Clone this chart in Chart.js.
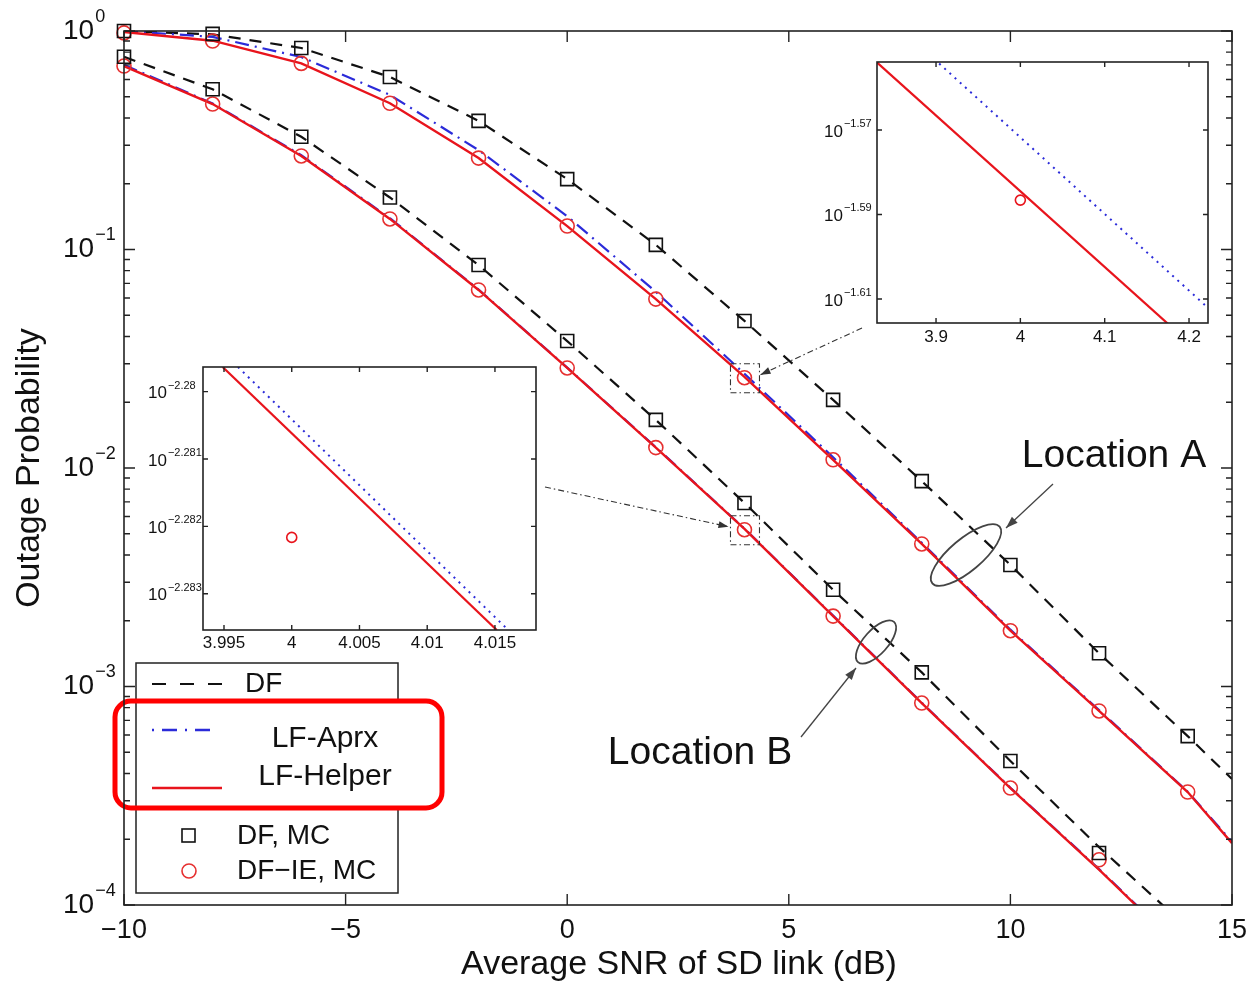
<!DOCTYPE html>
<html>
<head>
<meta charset="utf-8">
<script src="https://cdn.jsdelivr.net/npm/chart.js@4.4.0/dist/chart.umd.min.js"></script>
<style>
  body { margin: 0; background: #fff; }
  #wrap { position: relative; width: 1249px; height: 984px; }
  canvas { position: absolute; }
</style>
</head>
<body>
<div id="wrap">
  <canvas id="main" width="1249" height="984" style="left:0;top:0"></canvas>
  <canvas id="insetA" width="430" height="305" style="left:800px;top:50px"></canvas>
  <canvas id="insetB" width="420" height="300" style="left:130px;top:355px"></canvas>
</div>
<script>
const FONT = "'Liberation Sans', Arial, Helvetica, sans-serif";
const RED = '#e8141c';
const BLUE = '#2b2bd9';

// SNR of SD link (dB)
const snrTheory = [-10, -8, -6, -4, -2, 0, 2, 4, 6, 8, 10, 12, 14, 15];
const snrMcA = [-10, -8, -6, -4, -2, 0, 2, 4, 6, 8, 10, 12, 14];
const snrMcB = [-10, -8, -6, -4, -2, 0, 2, 4, 6, 8, 10, 12];

// Location A
const dfA       = [1.0, 0.965, 0.836, 0.616, 0.388, 0.210, 0.105, 0.0471, 0.0205, 0.00871, 0.00360, 0.00142, 0.000593, 0.000377];
const lfAprxA   = [1.0, 0.94, 0.76, 0.51, 0.285, 0.142, 0.064, 0.0270, 0.0112, 0.00455, 0.00182, 0.00078, 0.00033, 0.000195];
const lfHelperA = [0.99, 0.903, 0.711, 0.467, 0.262, 0.128, 0.0593, 0.0261, 0.0109, 0.00449, 0.00180, 0.000773, 0.000329, 0.000192];
const dfMcA     = [1.0, 0.97, 0.836, 0.616, 0.388, 0.210, 0.105, 0.0471, 0.0205, 0.00871, 0.00360, 0.00142, 0.000593];
const dfieMcA   = [0.98, 0.90, 0.711, 0.467, 0.262, 0.128, 0.0593, 0.0259, 0.0109, 0.00449, 0.00180, 0.000773, 0.000329];

// Location B
const dfB       = [0.762, 0.541, 0.328, 0.173, 0.0849, 0.0381, 0.0166, 0.00692, 0.00277, 0.00116, 0.000456, 0.000184, 0.0000785, 0.000052];
const lfAprxB   = [0.70, 0.466, 0.270, 0.139, 0.0656, 0.0288, 0.01245, 0.00528, 0.00211, 0.000843, 0.000344, 0.000146, 0.0000595, 0.0000385];
const lfHelperB = [0.691, 0.463, 0.268, 0.138, 0.0653, 0.0287, 0.0124, 0.00526, 0.00210, 0.00084, 0.000343, 0.000145, 0.000059, 0.000038];
const dfMcB     = [0.762, 0.541, 0.328, 0.173, 0.0849, 0.0381, 0.0166, 0.00692, 0.00277, 0.00116, 0.000456, 0.000173];
const dfieMcB   = [0.691, 0.463, 0.268, 0.138, 0.0653, 0.0287, 0.0124, 0.00522, 0.00210, 0.00084, 0.000343, 0.000161];

const xTicks = [-10, -5, 0, 5, 10, 15];
const yDecades = [0, -1, -2, -3, -4];

// zoom inset A (around SNR = 4 dB, location A)
const insetAXTicks = [3.9, 4, 4.1, 4.2];
const insetAYExp = [-1.57, -1.59, -1.61];
const insetASnr = [3.83, 4.2225];
const insetAHelper = [0.027925, 0.023746];
const insetAAprx = [0.028781, 0.024428];
const insetAMcSnr = [4];
const insetAMc = [0.025906];

// zoom inset B (around SNR = 4 dB, location B)
const insetBXTicks = [3.995, 4, 4.005, 4.01, 4.015];
const insetBYExp = [-2.28, -2.281, -2.282, -2.283];
const insetBHelperSnr = [3.9949, 4.01513];
const insetBAprxSnr = [3.99603, 4.01598];
const insetBLine = [0.0052525, 0.0052055];
const insetBMcSnr = [4];
const insetBMc = [0.005222];

function pts(xs, ys) {
  return ys.map((y, i) => ({ x: xs[i], y: y }));
}
function lineDs(xs, ys, color, width, dash, order) {
  return { data: pts(xs, ys), borderColor: color, borderWidth: width, borderDash: dash,
    pointRadius: 0, fill: false, tension: 0, order: order };
}
function markerDs(xs, ys, style, color, r) {
  return { data: pts(xs, ys), showLine: false, pointStyle: style, pointRadius: r,
    pointBorderColor: color, pointBackgroundColor: 'rgba(0,0,0,0)', pointBorderWidth: 1.6,
    clip: false, order: 0 };
}
function mathText(s) { return String(s).replace('-', '\u2212'); }

function text(ctx, str, x, y, size, align, base) {
  ctx.font = size + 'px ' + FONT;
  ctx.fillStyle = '#111';
  ctx.textAlign = align || 'center';
  ctx.textBaseline = base || 'middle';
  ctx.fillText(str, x, y);
}
function powLabel(ctx, x, y, exp, size, expSize, raise) {
  text(ctx, '10', x, y, size, 'left');
  ctx.font = size + 'px ' + FONT;
  const w = ctx.measureText('10').width;
  text(ctx, mathText(exp), x + w + 1, y - raise, expSize, 'left');
}
function arrow(ctx, x1, y1, x2, y2, head) {
  ctx.beginPath(); ctx.moveTo(x1, y1); ctx.lineTo(x2, y2); ctx.stroke();
  const a = Math.atan2(y2 - y1, x2 - x1);
  ctx.setLineDash([]);
  ctx.beginPath();
  ctx.moveTo(x2, y2);
  ctx.lineTo(x2 - head * Math.cos(a) + head * 0.35 * Math.sin(a), y2 - head * Math.sin(a) - head * 0.35 * Math.cos(a));
  ctx.lineTo(x2 - head * Math.cos(a) - head * 0.35 * Math.sin(a), y2 - head * Math.sin(a) + head * 0.35 * Math.cos(a));
  ctx.closePath(); ctx.fill();
}

// frame + inside ticks on all four sides
function drawFrame(ctx, area, xPx, yPx, yMinorPx, majorLen, minorLen) {
  const { left, right, top, bottom } = area;
  ctx.save();
  ctx.strokeStyle = '#222';
  ctx.lineWidth = 1.4;
  ctx.setLineDash([]);
  ctx.beginPath();
  xPx.forEach(x => {
    ctx.moveTo(x, bottom); ctx.lineTo(x, bottom - majorLen);
    ctx.moveTo(x, top); ctx.lineTo(x, top + majorLen);
  });
  yPx.forEach(y => {
    ctx.moveTo(left, y); ctx.lineTo(left + majorLen, y);
    ctx.moveTo(right, y); ctx.lineTo(right - majorLen, y);
  });
  yMinorPx.forEach(y => {
    ctx.moveTo(left, y); ctx.lineTo(left + minorLen, y);
    ctx.moveTo(right, y); ctx.lineTo(right - minorLen, y);
  });
  ctx.stroke();
  ctx.lineWidth = 1.6;
  ctx.strokeRect(left, top, right - left, bottom - top);
  ctx.restore();
}

const whiteArea = {
  id: 'whiteArea',
  beforeDraw(chart) {
    const { ctx, chartArea: a } = chart;
    ctx.save();
    ctx.fillStyle = '#fff';
    ctx.fillRect(a.left, a.top, a.right - a.left, a.bottom - a.top);
    ctx.restore();
  }
};

const mainDecor = {
  id: 'mainDecor',
  afterDraw(chart) {
    const { ctx, chartArea: area, scales: { x, y } } = chart;
    ctx.save();

    // zoom boxes and connectors
    ctx.strokeStyle = '#333';
    ctx.fillStyle = '#333';
    ctx.lineWidth = 1.1;
    ctx.setLineDash([6, 3, 1.5, 3]);
    const bxA = x.getPixelForValue(4), byA = y.getPixelForValue(dfieMcA[7]);
    ctx.strokeRect(bxA - 14, byA - 14, 29, 29);
    const byB = y.getPixelForValue(dfieMcB[7]);
    ctx.strokeRect(bxA - 14, byB - 14, 29, 29);
    ctx.setLineDash([6, 3, 1.5, 3]);
    arrow(ctx, 862, 328, bxA + 16, byA - 3, 10);
    ctx.setLineDash([6, 3, 1.5, 3]);
    arrow(ctx, 545, 487, bxA - 16, byB - 3, 10);

    // location annotations
    ctx.setLineDash([]);
    ctx.strokeStyle = '#444';
    ctx.fillStyle = '#444';
    ctx.lineWidth = 1.8;
    ctx.beginPath(); ctx.ellipse(966, 555, 44, 16, -0.7, 0, Math.PI * 2); ctx.stroke();
    ctx.beginPath(); ctx.ellipse(876, 642, 27, 12, -0.84, 0, Math.PI * 2); ctx.stroke();
    ctx.lineWidth = 1.3;
    arrow(ctx, 1053, 484, 1006, 528, 12);
    arrow(ctx, 801, 737, 856, 668, 12);
    text(ctx, 'Location A', 1114, 456, 39);
    text(ctx, 'Location B', 700, 753, 39);

    // legend
    ctx.fillStyle = '#fff';
    ctx.fillRect(136, 663, 262, 230);
    ctx.strokeStyle = '#222';
    ctx.lineWidth = 1.5;
    ctx.strokeRect(136, 663, 262, 230);
    ctx.lineWidth = 2.2;
    ctx.strokeStyle = '#111';
    ctx.setLineDash([14, 14]);
    ctx.beginPath(); ctx.moveTo(152, 684); ctx.lineTo(226, 684); ctx.stroke();
    ctx.strokeStyle = BLUE;
    ctx.lineWidth = 2.5;
    ctx.setLineDash([2, 8, 15, 8]);
    ctx.beginPath(); ctx.moveTo(152, 730); ctx.lineTo(214, 730); ctx.stroke();
    ctx.strokeStyle = RED;
    ctx.setLineDash([]);
    ctx.lineWidth = 2.5;
    ctx.beginPath(); ctx.moveTo(152, 788); ctx.lineTo(222, 788); ctx.stroke();
    text(ctx, 'DF', 245, 684, 28, 'left');
    ctx.strokeStyle = '#111';
    ctx.lineWidth = 1.6;
    ctx.strokeRect(182, 829, 13, 13);
    text(ctx, 'DF, MC', 237, 836, 28, 'left');
    ctx.strokeStyle = '#e63030';
    ctx.beginPath(); ctx.arc(189, 871, 7, 0, Math.PI * 2); ctx.stroke();
    text(ctx, 'DF\u2212IE, MC', 237, 871, 28, 'left');
    // pasted-over labels with red highlight
    ctx.fillStyle = '#fff';
    ctx.fillRect(222, 703, 218, 103);
    text(ctx, 'LF-Aprx', 325, 739, 30);
    text(ctx, 'LF-Helper', 325, 777, 30);
    ctx.strokeStyle = '#f00';
    ctx.lineWidth = 5;
    ctx.beginPath(); ctx.roundRect(115, 701, 327, 107, 16); ctx.stroke();

    // axes frame, ticks, labels
    const xPx = xTicks.map(v => x.getPixelForValue(v));
    const yPx = yDecades.map(e => y.getPixelForValue(Math.pow(10, e)));
    const minor = [];
    yDecades.slice(1).forEach(e => {
      for (let m = 2; m <= 9; m++) minor.push(y.getPixelForValue(m * Math.pow(10, e)));
    });
    drawFrame(ctx, area, xPx, yPx, minor, 11, 6);
    xTicks.forEach((v, i) => text(ctx, mathText(v), xPx[i], 931, 27));
    yDecades.forEach((e, i) => powLabel(ctx, 63, yPx[i], e, 28, 18, 14));
    text(ctx, 'Average SNR of SD link (dB)', 679, 965, 34);
    ctx.translate(30, 468);
    ctx.rotate(-Math.PI / 2);
    text(ctx, 'Outage Probability', 0, 0, 34);
    ctx.restore();
  }
};

function baseOptions(pad, xr, yr) {
  return {
    responsive: false,
    animation: false,
    events: [],
    layout: { padding: pad },
    plugins: { legend: { display: false }, tooltip: { enabled: false } },
    scales: {
      x: { type: 'linear', min: xr[0], max: xr[1], ticks: { display: false },
        grid: { display: false }, border: { display: false }, afterFit: s => { s.height = 0; } },
      y: { type: 'logarithmic', min: yr[0], max: yr[1], ticks: { display: false },
        grid: { display: false }, border: { display: false }, afterFit: s => { s.width = 0; } }
    }
  };
}

new Chart('main', {
  type: 'line',
  data: {
    datasets: [
      markerDs(snrMcA, dfMcA, 'rect', '#111', 9.2),
      markerDs(snrMcB, dfMcB, 'rect', '#111', 9.2),
      markerDs(snrMcA, dfieMcA, 'circle', '#e63030', 7),
      markerDs(snrMcB, dfieMcB, 'circle', '#e63030', 7),
      lineDs(snrTheory, lfHelperA, RED, 2.4, [], 1),
      lineDs(snrTheory, lfHelperB, RED, 2.4, [], 1),
      lineDs(snrTheory, lfAprxA, BLUE, 2.2, [14, 6, 2, 6], 2),
      lineDs(snrTheory, lfAprxB, BLUE, 2.2, [14, 6, 2, 6], 2),
      lineDs(snrTheory, dfA, '#111', 2.2, [12, 9], 3),
      lineDs(snrTheory, dfB, '#111', 2.2, [12, 9], 3)
    ]
  },
  options: baseOptions({ left: 124, top: 31, right: 17, bottom: 79 }, [-10, 15], [1e-4, 1]),
  plugins: [whiteArea, mainDecor]
});

function insetDecor(xTickVals, yExps, xLabelY, labelLeft) {
  return {
    id: 'insetDecor',
    afterDraw(chart) {
      const { ctx, chartArea: area, scales: { x, y } } = chart;
      ctx.save();
      const xPx = xTickVals.map(v => x.getPixelForValue(v));
      const yPx = yExps.map(e => y.getPixelForValue(Math.pow(10, e)));
      drawFrame(ctx, area, xPx, yPx, [], 5, 0);
      xTickVals.forEach((v, i) => text(ctx, String(v), xPx[i], xLabelY, 17));
      yExps.forEach((e, i) => powLabel(ctx, labelLeft, yPx[i] + 2, e, 17, 11, 8));
      ctx.restore();
    }
  };
}

new Chart('insetA', {
  type: 'line',
  data: {
    datasets: [
      markerDs(insetAMcSnr, insetAMc, 'circle', RED, 5),
      lineDs(insetASnr, insetAHelper, RED, 2.2, [], 1),
      lineDs(insetASnr, insetAAprx, BLUE, 2, [2, 5], 2)
    ]
  },
  options: baseOptions({ left: 77, top: 12, right: 22, bottom: 32 }, [3.83, 4.2225], [0.024227, 0.027932]),
  plugins: [whiteArea, insetDecor(insetAXTicks, insetAYExp, 287, 24)]
});

new Chart('insetB', {
  type: 'line',
  data: {
    datasets: [
      markerDs(insetBMcSnr, insetBMc, 'circle', RED, 5),
      lineDs(insetBHelperSnr, insetBLine, RED, 2.2, [], 1),
      lineDs(insetBAprxSnr, insetBLine, BLUE, 2, [2, 5], 2)
    ]
  },
  options: baseOptions({ left: 73, top: 12, right: 14, bottom: 25 }, [3.99345, 4.01803], [0.0052055, 0.0052525]),
  plugins: [whiteArea, insetDecor(insetBXTicks, insetBYExp, 288, 18)]
});
</script>
</body>
</html>
